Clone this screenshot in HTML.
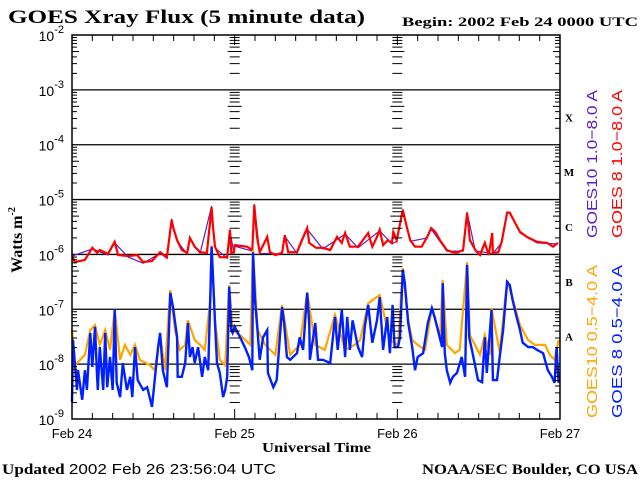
<!DOCTYPE html>
<html><head><meta charset="utf-8"><style>
html,body{margin:0;padding:0;background:#fff;}
svg{display:block;}
.sans{font-family:"Liberation Sans",sans-serif;}
.serif{font-family:"Liberation Serif",serif;font-weight:bold;}
</style></head><body>
<svg id="chart" width="640" height="480" viewBox="0 0 640 480" xmlns="http://www.w3.org/2000/svg">
<text x="8" y="23" class="serif" font-size="19" textLength="357" lengthAdjust="spacingAndGlyphs">GOES Xray Flux (5 minute data)</text>
<text x="402" y="26" class="serif" font-size="13" textLength="236" lengthAdjust="spacingAndGlyphs">Begin:  2002 Feb 24 0000 UTC</text>
<text transform="translate(22,240) rotate(-90)" text-anchor="middle" class="serif" font-size="16">Watts m<tspan font-size="10" dy="-7">-2</tspan></text>
<text x="262" y="452" class="serif" font-size="14" textLength="109" lengthAdjust="spacingAndGlyphs">Universal Time</text>
<text x="2" y="474" class="serif" font-size="15" textLength="274" lengthAdjust="spacingAndGlyphs">Updated <tspan class="sans" font-weight="normal">2002 Feb 26 23:56:04 UTC</tspan></text>
<text x="422" y="474" class="serif" font-size="15" textLength="216" lengthAdjust="spacingAndGlyphs">NOAA/SEC Boulder, CO USA</text>
<g id="grid"></g>
<g id="series"></g>
<g id="axes"></g>
<text transform="translate(597,238) rotate(-90)" class="sans" font-size="15" fill="#6020c0" textLength="148" lengthAdjust="spacingAndGlyphs">GOES10 1.0−8.0 A</text>
<text transform="translate(622,238) rotate(-90)" class="sans" font-size="15" fill="#ff0000" textLength="148" lengthAdjust="spacingAndGlyphs">GOES 8 1.0−8.0 A</text>
<text transform="translate(597,418) rotate(-90)" class="sans" font-size="15" fill="#ffa500" textLength="153" lengthAdjust="spacingAndGlyphs">GOES10 0.5−4.0 A</text>
<text transform="translate(622,418) rotate(-90)" class="sans" font-size="15" fill="#0020ff" textLength="153" lengthAdjust="spacingAndGlyphs">GOES 8 0.5−4.0 A</text>
</svg>
<script>
// ---- data (time in hours since 2002-02-24 00:00 UTC, value = log10 flux W/m^2) ----
const dayLabels = ["Feb 24","Feb 25","Feb 26","Feb 27"];
const yExponents = [-2,-3,-4,-5,-6,-7,-8,-9];
const flareClasses = ["X","M","C","B","A"];
const flareClassExp = [-3.5,-4.5,-5.5,-6.5,-7.5];

const redT = [0,0.4,1.9,3.0,3.7,4.1,5.3,6.3,6.8,8.3,9.6,10.5,11.8,13.0,14.0,14.7,14.9,15.5,16.2,17.0,17.4,18.1,18.9,19.9,20.6,20.8,21.1,21.8,22.9,23.3,23.5,23.9,
 24.0,25.8,26.6,26.9,27.3,27.7,28.8,29.2,30.0,31.0,31.4,31.9,33.2,33.9,34.7,35.0,36.0,37.0,38.1,39.1,39.8,40.3,41.0,42.2,43.7,44.3,45.0,45.4,45.9,46.6,47.2,47.4,
 47.9,48.8,49.4,49.9,50.6,51.6,52.4,53.0,53.6,54.3,55.3,56.1,56.8,57.7,58.3,58.7,59.5,60.2,60.9,61.5,62.0,62.1,62.9,63.4,64.2,64.6,65.4,66.1,67.1,68.6,70.1,71.0,71.7];
const redV = [-6.01,-6.14,-6.10,-5.88,-5.97,-5.92,-5.99,-5.77,-6.01,-6.03,-6.01,-6.14,-6.12,-5.96,-6.05,-5.37,-5.50,-5.74,-5.92,-5.97,-5.70,-5.86,-5.96,-5.97,-5.14,-5.50,-5.86,-6.05,-6.05,-5.55,-5.97,-5.96,
 -5.83,-5.86,-5.92,-5.10,-5.68,-5.96,-5.68,-5.96,-6.01,-5.97,-5.65,-5.96,-5.96,-5.74,-5.52,-5.79,-5.88,-5.88,-5.92,-5.68,-5.79,-5.61,-5.86,-5.86,-5.61,-5.86,-5.68,-5.55,-5.83,-5.74,-5.79,-5.59,
 -5.74,-5.19,-5.50,-5.74,-5.86,-5.86,-5.68,-5.52,-5.59,-5.74,-5.92,-5.96,-5.97,-5.92,-5.24,-5.74,-5.92,-6.01,-5.79,-6.01,-5.61,-5.97,-5.96,-5.77,-5.24,-5.24,-5.43,-5.59,-5.68,-5.77,-5.79,-5.86,-5.79];

// GOES10 long channel: nearly coincident with GOES 8, peeks out only at a few peaks
const purpleT = [0,3.0,5.3,6.3,8.3,10.5,13.0,14.0,14.7,15.5,17.0,17.4,18.9,20.6,21.1,22.9,23.3,23.9,
 24.0,26.6,26.9,27.7,31.0,31.4,33.2,34.7,37.0,40.3,42.2,45.4,47.2,47.9,48.8,49.9,52.4,53.0,55.3,57.7,58.3,59.5,62.1,63.4,64.2,64.6,66.1,68.6,71.7];
const purpleV = [-6.03,-5.90,-6.01,-5.79,-6.05,-6.16,-5.98,-6.07,-5.35,-5.76,-5.99,-5.72,-5.98,-5.12,-5.88,-6.07,-5.57,-5.98,
 -5.85,-5.94,-5.08,-5.98,-5.99,-5.67,-5.98,-5.54,-5.90,-5.63,-5.88,-5.57,-5.81,-5.76,-5.18,-5.76,-5.70,-5.54,-5.94,-5.94,-5.23,-5.94,-5.98,-5.79,-5.23,-5.23,-5.61,-5.79,-5.81];

const orangeT = [0,0.44,1.9,2.7,3.4,4.1,4.9,5.6,6.3,7.1,7.8,8.6,9.3,10.0,11.5,12.2,13.0,13.7,14.5,15.2,15.9,16.7,17.1,18.1,18.9,19.6,20.4,20.6,21.1,21.8,22.6,23.2,23.7,
 24.8,26.3,26.7,27.4,28.5,30.0,31.0,32.2,33.6,34.7,35.9,37.3,38.8,40.3,41.7,42.5,43.7,45.4,46.9,
 48.1,48.8,49.6,50.2,51.0,52.1,53.1,54.3,54.7,55.3,56.5,57.2,58.3,58.7,60.2,60.9,61.7,61.9,63.1,64.2,65.0,66.1,67.3,68.3,69.8,70.5,71.2,71.8];
const orangeV = [-7.38,-8.02,-7.83,-7.38,-7.29,-7.65,-7.38,-7.74,-7.01,-7.92,-7.65,-7.83,-7.65,-7.92,-8.02,-8.11,-7.47,-8.11,-6.65,-7.38,-7.74,-7.65,-7.20,-7.56,-7.65,-7.74,-6.83,-5.83,-7.20,-7.92,-8.02,-6.56,-7.38,
 -7.47,-7.65,-5.92,-7.38,-7.65,-7.83,-6.92,-7.83,-7.65,-6.69,-7.65,-7.74,-7.10,-7.74,-7.65,-7.56,-6.89,-6.74,-7.56,
 -7.65,-6.25,-7.20,-7.56,-7.65,-7.74,-6.96,-7.56,-6.47,-7.65,-7.80,-7.74,-6.14,-7.47,-7.83,-7.47,-7.83,-6.98,-7.78,-6.47,-6.80,-7.29,-7.56,-7.65,-7.65,-7.83,-7.92,-7.56];

const blueT = [0,0.15,0.74,0.89,1.5,1.9,2.2,2.7,3.0,3.4,3.7,3.8,4.1,4.6,4.9,5.2,5.6,6.0,6.3,6.6,7.1,7.5,8.1,8.6,8.9,9.3,9.7,10.5,11.1,11.8,12.2,12.7,13.0,13.4,14.0,14.5,14.9,15.5,15.6,16.2,16.7,17.1,17.4,17.8,18.1,18.6,19.2,19.6,20.1,20.4,20.6,20.8,21.1,21.4,21.8,22.3,22.6,22.9,23.2,23.5,23.7,
 24.0,24.8,25.5,26.1,26.6,26.7,27.0,27.4,27.7,28.2,28.8,28.9,29.7,30.2,31.0,31.3,31.7,32.2,32.6,33.2,33.6,34.1,34.7,35.0,35.1,35.9,36.3,37.0,38.1,38.8,39.2,39.8,40.3,40.6,41.0,41.4,42.2,42.8,43.2,43.7,44.3,45.0,45.4,45.9,46.5,46.9,47.3,47.6,
 48.1,48.4,48.8,49.1,49.4,49.6,50.2,50.6,51.0,51.8,52.5,53.1,53.5,54.0,54.6,54.7,55.0,55.3,55.8,56.2,56.8,57.5,58.0,58.3,58.6,59.0,59.4,59.9,60.5,60.9,61.2,61.9,62.1,62.7,63.1,63.6,64.2,64.6,65.0,65.6,66.1,66.5,67.3,68.0,68.6,69.5,70.2,70.8,71.2,71.5,71.8];
const blueV = [-8.69,-7.56,-8.47,-8.11,-8.65,-8.11,-8.47,-7.43,-8.05,-7.32,-8.23,-8.47,-7.69,-8.47,-7.43,-8.42,-7.87,-8.47,-7.01,-8.34,-8.60,-7.98,-8.47,-8.23,-8.60,-7.69,-8.29,-8.47,-8.42,-8.78,-8.29,-7.69,-7.43,-8.11,-8.42,-6.70,-6.96,-7.51,-8.23,-8.23,-7.98,-7.25,-7.87,-7.69,-7.98,-7.69,-8.23,-7.87,-8.11,-6.78,-5.86,-6.41,-7.25,-7.98,-8.16,-8.60,-8.47,-8.23,-6.59,-7.38,-7.43,
 -7.32,-7.51,-7.69,-7.87,-8.11,-5.96,-6.83,-7.43,-7.92,-7.51,-7.38,-8.16,-8.42,-8.29,-6.96,-7.25,-7.87,-7.92,-7.87,-7.80,-7.51,-7.74,-6.70,-7.25,-7.92,-7.25,-7.92,-7.92,-7.98,-7.14,-7.74,-7.01,-7.87,-7.14,-7.74,-7.20,-7.69,-7.87,-7.32,-6.92,-7.61,-7.20,-6.78,-7.74,-7.14,-7.80,-6.92,-7.69,
 -7.69,-7.51,-6.28,-6.52,-6.96,-7.25,-7.69,-8.11,-7.87,-7.80,-7.25,-6.98,-7.14,-7.38,-7.69,-6.52,-7.80,-8.11,-8.34,-8.23,-8.16,-7.87,-8.23,-6.19,-7.51,-7.74,-7.98,-8.29,-8.33,-7.51,-8.16,-7.01,-8.29,-8.29,-7.87,-7.38,-6.50,-6.56,-6.83,-7.14,-7.38,-7.61,-7.69,-7.69,-7.74,-7.80,-8.11,-8.23,-8.34,-7.69,-8.34];

// ---- scales ----
const X0=72, X1=560, Y0=35, Y1=419, T0=0, T1=72, E0=-2, E1=-9;
const xs = t => X0 + (t-T0)/(T1-T0)*(X1-X0);
const ys = e => Y0 + (e-E0)/(E1-E0)*(Y1-Y0);
const NS="http://www.w3.org/2000/svg";
function mk(tag, attrs, parent){const el=document.createElementNS(NS,tag);for(const k in attrs)el.setAttribute(k,attrs[k]);parent.appendChild(el);return el;}
const grid=document.getElementById('grid'), axes=document.getElementById('axes'), series=document.getElementById('series');

yExponents.forEach((e,i)=>{
  if(i>0 && i<yExponents.length-1){
    const l=mk('line',{x1:X0,x2:X1,y1:ys(e),y2:ys(e),stroke:'#000','stroke-width':1.3},grid);
    
    
  }
  const t=mk('text',{x:X0-8,y:ys(e)+6,'text-anchor':'end','font-size':14,class:'sans'},axes);
  
  
  t.innerHTML='10<tspan font-size="11" dy="-8">'+e+'</tspan>';
});
const vlinesT=[0,24,48,72];
let tickPath='';
for(let d=0; d<7; d++){
  for(let m=2;m<=9;m++){
    const y=ys(E0-d-1+Math.log10(m));
    const len=(m===5)?7:5;
    vlinesT.forEach((t,i)=>{
      const x=xs(t);
      if(i<3) tickPath+=`M${x} ${y}h${len}`;
      if(i>0) tickPath+=`M${x} ${y}h${-len}`;
    });
  }
}
for(let h=0;h<=72;h+=3){
  const x=xs(h), len=(h%24===0)?10:6;
  tickPath+=`M${x} ${Y1}v${-len}M${x} ${Y0}v${len}`;
}
const tk=mk('path',{d:tickPath,stroke:'#000','stroke-width':1,fill:'none'},axes);


const fr=mk('rect',{x:X0,y:Y0,width:X1-X0,height:Y1-Y0,fill:'none',stroke:'#000','stroke-width':1.5},axes);


dayLabels.forEach((lab,i)=>{
  const t=mk('text',{x:xs(i*24),y:438,'text-anchor':'middle','font-size':13,class:'sans'},axes);
  
  
  t.textContent=lab;
});
flareClasses.forEach((c,i)=>{
  const t=mk('text',{x:569,y:ys(flareClassExp[i])+4,'text-anchor':'middle','font-size':11,class:'serif'},axes);
  
  
  t.textContent=c;
});

function drawLine(T,V,color,w,name){
  let d='';
  T.forEach((t,i)=>{ d+=(i?'L':'M')+xs(t).toFixed(1)+' '+ys(V[i]).toFixed(1); });
  const p=mk('path',{d:d,stroke:color,'stroke-width':w,fill:'none','stroke-linejoin':'miter'},series);
  
  
}
drawLine(purpleT,purpleV,'#6020c0',1.2,'goes10-long-line');
drawLine(redT,redV,'#ff0000',2.2,'goes8-long-line');
drawLine(orangeT,orangeV,'#ffa500',2.2,'goes10-short-line');
drawLine(blueT,blueV,'#0020ff',2.4,'goes8-short-line');
</script>
</body></html>
